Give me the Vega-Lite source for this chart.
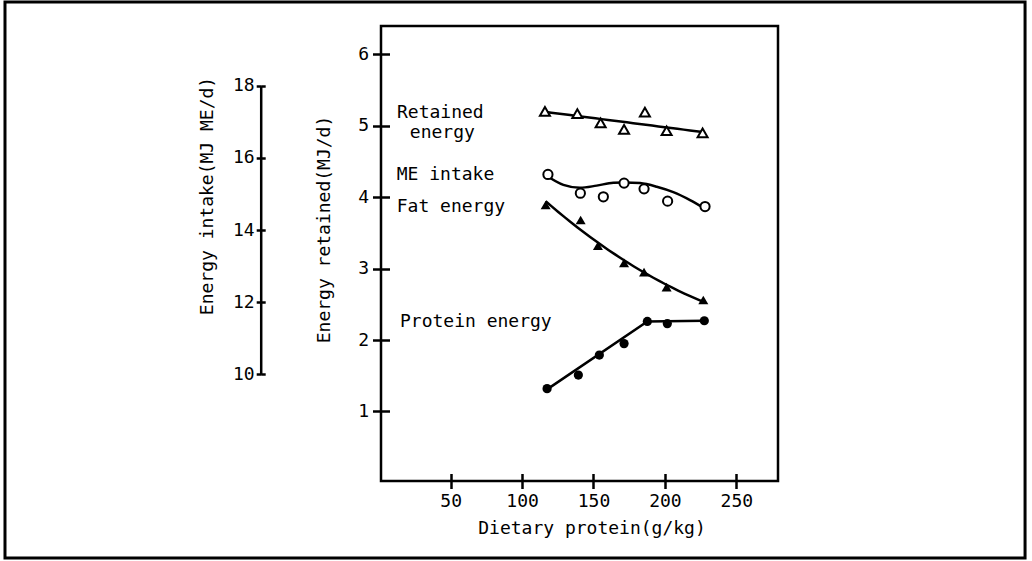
{
  "$schema": "https://vega.github.io/schema/vega-lite/v6.json",
  "autosize": {"type": "none"},
  "width": 397,
  "height": 455,
  "padding": {"left": 381, "top": 26, "right": 254, "bottom": 80},
  "background": "white",
  "config": {
    "font": "DejaVu Sans Mono",
    "view": {"stroke": "black", "strokeWidth": 2.5},
    "axis": {
      "grid": false,
      "domainColor": "black",
      "tickColor": "black",
      "labelColor": "black",
      "titleColor": "black",
      "labelFont": "DejaVu Sans Mono",
      "titleFont": "DejaVu Sans Mono",
      "labelFontSize": 18,
      "titleFontSize": 18,
      "titleFontWeight": "normal",
      "tickWidth": 2.5,
      "domainWidth": 2.5,
      "format": "d"
    }
  },
  "datasets": {
    "retained": [
      {"protein": 116.0, "energy": 5.20},
      {"protein": 138.7, "energy": 5.17},
      {"protein": 155.0, "energy": 5.04},
      {"protein": 171.4, "energy": 4.95},
      {"protein": 186.0, "energy": 5.19},
      {"protein": 201.2, "energy": 4.93},
      {"protein": 226.4, "energy": 4.90}
    ],
    "fat": [
      {"protein": 116.5, "energy": 3.89},
      {"protein": 141.0, "energy": 3.68},
      {"protein": 153.1, "energy": 3.32},
      {"protein": 171.4, "energy": 3.08},
      {"protein": 185.4, "energy": 2.95},
      {"protein": 201.2, "energy": 2.74},
      {"protein": 226.9, "energy": 2.56}
    ],
    "protein_energy": [
      {"protein": 117.5, "energy": 1.32},
      {"protein": 139.4, "energy": 1.51},
      {"protein": 154.1, "energy": 1.79},
      {"protein": 171.4, "energy": 1.95},
      {"protein": 187.7, "energy": 2.26},
      {"protein": 201.7, "energy": 2.23},
      {"protein": 227.6, "energy": 2.27}
    ],
    "protein_fit": [
      {"protein": 117.5, "energy": 1.31},
      {"protein": 187.7, "energy": 2.26},
      {"protein": 227.6, "energy": 2.27}
    ],
    "me_intake": [
      {"protein": 118.1, "intake": 15.54},
      {"protein": 140.8, "intake": 15.02},
      {"protein": 156.9, "intake": 14.92},
      {"protein": 171.4, "intake": 15.30},
      {"protein": 185.4, "intake": 15.14},
      {"protein": 201.9, "intake": 14.80},
      {"protein": 228.1, "intake": 14.65}
    ],
    "me_intake_curve": [
      {"protein": 116.0, "intake": 15.53},
      {"protein": 128.9, "intake": 15.25},
      {"protein": 140.5, "intake": 15.17},
      {"protein": 152.2, "intake": 15.23},
      {"protein": 163.9, "intake": 15.31},
      {"protein": 171.6, "intake": 15.32},
      {"protein": 182.6, "intake": 15.30},
      {"protein": 194.3, "intake": 15.20},
      {"protein": 205.9, "intake": 15.05},
      {"protein": 217.6, "intake": 14.83},
      {"protein": 226.9, "intake": 14.62}
    ],
    "labels": [
      {"protein": 12.4, "energy": 5.113, "text": "Retained"},
      {"protein": 21.4, "energy": 4.824, "text": "energy"},
      {"protein": 12.2, "energy": 4.24, "text": "ME intake"},
      {"protein": 12.2, "energy": 3.797, "text": "Fat energy"},
      {"protein": 14.5, "energy": 2.187, "text": "Protein energy"}
    ]
  },
  "layer": [
    {
      "layer": [
        {
          "data": {"values": [{}]},
          "mark": {"type": "rect", "fillOpacity": 0, "stroke": "black", "strokeWidth": 3, "clip": false},
          "encoding": {
            "x": {"datum": -262.1, "type": "quantitative"},
            "x2": {"datum": 452.2},
            "y": {"datum": 6.732, "type": "quantitative"},
            "y2": {"datum": -1.051}
          }
        },
        {
          "data": {"name": "retained"},
          "transform": [{"regression": "energy", "on": "protein", "method": "poly", "order": 2}],
          "mark": {"type": "line", "color": "black", "strokeWidth": 2.5},
          "encoding": {
            "x": {"field": "protein", "type": "quantitative"},
            "y": {"field": "energy", "type": "quantitative"}
          }
        },
        {
          "data": {"name": "retained"},
          "mark": {"type": "point", "shape": "triangle-up", "size": 100, "filled": true, "fill": "white", "stroke": "black", "strokeWidth": 2, "opacity": 1},
          "encoding": {
            "x": {
              "field": "protein",
              "type": "quantitative",
              "scale": {"domain": [1.2, 279.2], "nice": false, "zero": false},
              "axis": {
                "orient": "bottom",
                "offset": -7.5,
                "domain": false,
                "tickSize": 15,
                "values": [50, 100, 150, 200, 250],
                "labelPadding": 4,
                "title": "Dietary protein(g/kg)",
                "titleX": 210.5,
                "titleY": 54.5,
                "titleBaseline": "middle",
                "titleAlign": "center"
              }
            },
            "y": {
              "field": "energy",
              "type": "quantitative",
              "scale": {"domain": [0.027, 6.396], "nice": false, "zero": false},
              "axis": {
                "orient": "left",
                "offset": -8.5,
                "domain": false,
                "tickSize": 17,
                "values": [1, 2, 3, 4, 5, 6],
                "labelPadding": 4,
                "title": "Energy retained(MJ/d)",
                "titleX": -65.5,
                "titleY": 203,
                "titleAngle": 270,
                "titleBaseline": "middle",
                "titleAlign": "center"
              }
            }
          }
        },
        {
          "data": {"name": "fat"},
          "transform": [{"regression": "energy", "on": "protein", "method": "poly", "order": 2}],
          "mark": {"type": "line", "color": "black", "strokeWidth": 2.5},
          "encoding": {
            "x": {"field": "protein", "type": "quantitative"},
            "y": {"field": "energy", "type": "quantitative"}
          }
        },
        {
          "data": {"name": "fat"},
          "mark": {"type": "point", "shape": "triangle-up", "size": 100, "filled": true, "color": "black", "opacity": 1},
          "encoding": {
            "x": {"field": "protein", "type": "quantitative"},
            "y": {"field": "energy", "type": "quantitative"}
          }
        },
        {
          "data": {"name": "protein_fit"},
          "mark": {"type": "line", "color": "black", "strokeWidth": 2.5},
          "encoding": {
            "x": {"field": "protein", "type": "quantitative"},
            "y": {"field": "energy", "type": "quantitative"}
          }
        },
        {
          "data": {"name": "protein_energy"},
          "mark": {"type": "point", "shape": "circle", "size": 85, "filled": true, "color": "black", "opacity": 1},
          "encoding": {
            "x": {"field": "protein", "type": "quantitative"},
            "y": {"field": "energy", "type": "quantitative"}
          }
        },
        {
          "data": {"name": "labels"},
          "mark": {"type": "text", "align": "left", "baseline": "alphabetic", "fontSize": 18, "font": "DejaVu Sans Mono", "color": "black"},
          "encoding": {
            "x": {"field": "protein", "type": "quantitative"},
            "y": {"field": "energy", "type": "quantitative"},
            "text": {"field": "text"}
          }
        }
      ]
    },
    {
      "layer": [
        {
          "data": {"name": "me_intake_curve"},
          "mark": {"type": "line", "color": "black", "strokeWidth": 2.5, "interpolate": "monotone"},
          "encoding": {
            "x": {"field": "protein", "type": "quantitative"},
            "y": {
              "field": "intake",
              "type": "quantitative",
              "scale": {"domain": [10, 18], "range": [348.3, 59.7], "nice": false, "zero": false},
              "axis": {
                "orient": "left",
                "offset": 115.8,
                "domain": false,
                "tickSize": 4.5,
                "values": [10, 12, 14, 16, 18],
                "labels": false,
                "title": null
              }
            }
          }
        },
        {
          "data": {"name": "me_intake"},
          "mark": {"type": "point", "shape": "circle", "size": 85, "filled": true, "fill": "white", "stroke": "black", "strokeWidth": 2, "opacity": 1},
          "encoding": {
            "x": {"field": "protein", "type": "quantitative"},
            "y": {
              "field": "intake",
              "type": "quantitative",
              "axis": {
                "orient": "left",
                "offset": 120.3,
                "domain": true,
                "tickSize": 4.5,
                "values": [10, 12, 14, 16, 18],
                "labelPadding": 2,
                "title": "Energy intake(MJ ME/d)",
                "titleX": -53.2,
                "titleY": 169.5,
                "titleAngle": 270,
                "titleBaseline": "middle",
                "titleAlign": "center"
              }
            }
          }
        }
      ],
      "resolve": {"axis": {"y": "independent"}}
    }
  ],
  "resolve": {"scale": {"y": "independent"}, "axis": {"y": "independent"}}
}
